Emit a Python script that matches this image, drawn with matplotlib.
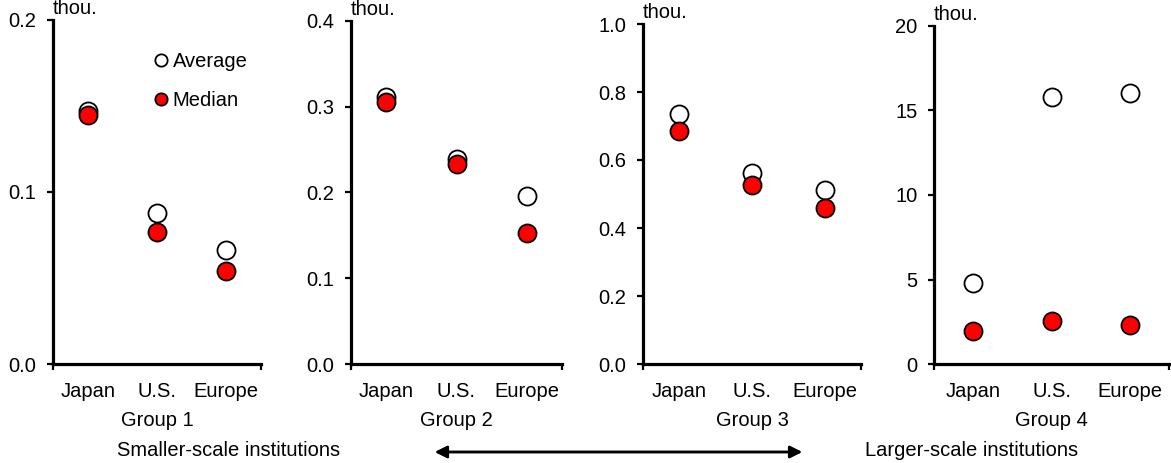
import matplotlib.pyplot as plt
from matplotlib.ticker import FormatStrFormatter

plt.rcParams['font.family'] = ['Liberation Sans', 'DejaVu Sans']
plt.rcParams['font.size'] = 14.5

# data (thousands)
regions = ["Japan", "U.S.", "Europe"]
groups = ["Group 1", "Group 2", "Group 3", "Group 4"]
avg_g1 = [0.147, 0.088, 0.066]
med_g1 = [0.145, 0.077, 0.054]
avg_g2 = [0.311, 0.239, 0.196]
med_g2 = [0.305, 0.233, 0.153]
avg_g3 = [0.735, 0.562, 0.512]
med_g3 = [0.685, 0.526, 0.459]
avg_g4 = [4.8, 15.8, 16.05]
med_g4 = [1.96, 2.55, 2.28]
y_max = [0.2, 0.4, 1.0, 20]
y_step = [0.1, 0.1, 0.2, 5]
y_fmt = ["%.1f", "%.1f", "%.1f", "%d"]

W, H = 1171, 463
fig = plt.figure(figsize=(W / 100, H / 100), dpi=100)

# axes boxes in pixels: left, right, top (bottom is shared)
boxes = [(53, 261, 20), (351, 562, 21), (643, 861, 24), (934, 1169, 26)]
bottom = 364

avgs = [avg_g1, avg_g2, avg_g3, avg_g4]
meds = [med_g1, med_g2, med_g3, med_g4]

for i, (l, r, t) in enumerate(boxes):
    ax = fig.add_axes([l / W, 1 - bottom / H, (r - l) / W, (bottom - t) / H])
    x = list(range(len(regions)))
    ax.plot(x, avgs[i], 'o', ms=13, mfc='white', mec='black', mew=1.3,
            label='Average', zorder=3)
    ax.plot(x, meds[i], 'o', ms=13, mfc='#FF0000', mec='black', mew=1.3,
            label='Median', zorder=4)

    ax.set_xlim(-0.5, 2.5)
    ax.set_ylim(0, y_max[i])
    n = int(round(y_max[i] / y_step[i]))
    ax.set_yticks([k * y_step[i] for k in range(n + 1)])
    ax.yaxis.set_major_formatter(FormatStrFormatter(y_fmt[i]))
    ax.set_xticks(x)
    ax.set_xticklabels(regions)
    ax.set_xticks([-0.5, 2.5], minor=True)

    for s in ['top', 'right']:
        ax.spines[s].set_visible(False)
    for s in ['left', 'bottom']:
        ax.spines[s].set_linewidth(2.3)
    ax.tick_params(axis='y', length=4.5, width=1.6, pad=7.5, direction='out')
    ax.tick_params(axis='x', which='major', length=0, pad=13)
    ax.tick_params(axis='x', which='minor', length=4.5, width=1.6, direction='out')

    ax.annotate('thou.', xy=(0, 1), xycoords='axes fraction', xytext=(0, 6),
                textcoords='offset pixels', ha='left', va='baseline')
    ax.annotate(groups[i], xy=(0.5, 0), xycoords='axes fraction',
                xytext=(0, -56), textcoords='offset pixels', ha='center', va='center')

    if i == 0:
        ax.legend(loc='upper left', bbox_to_anchor=(0.44, 0.935), frameon=False,
                  markerscale=0.68, handlelength=0.6, handletextpad=0.3,
                  labelspacing=0.95, borderpad=0, numpoints=1)

fig.text(229 / W, 1 - 450 / H, 'Smaller-scale institutions', ha='center', va='center')
fig.text(972 / W, 1 - 450 / H, 'Larger-scale institutions', ha='center', va='center')
fig.add_artist(plt.annotate('', xy=(435, H - 452), xycoords='figure pixels',
                            xytext=(802, H - 452), textcoords='figure pixels',
                            arrowprops=dict(arrowstyle='<|-|>', color='black', lw=1.8,
                                            mutation_scale=18, shrinkA=0, shrinkB=0)))

fig.savefig('out.png', dpi=100)
